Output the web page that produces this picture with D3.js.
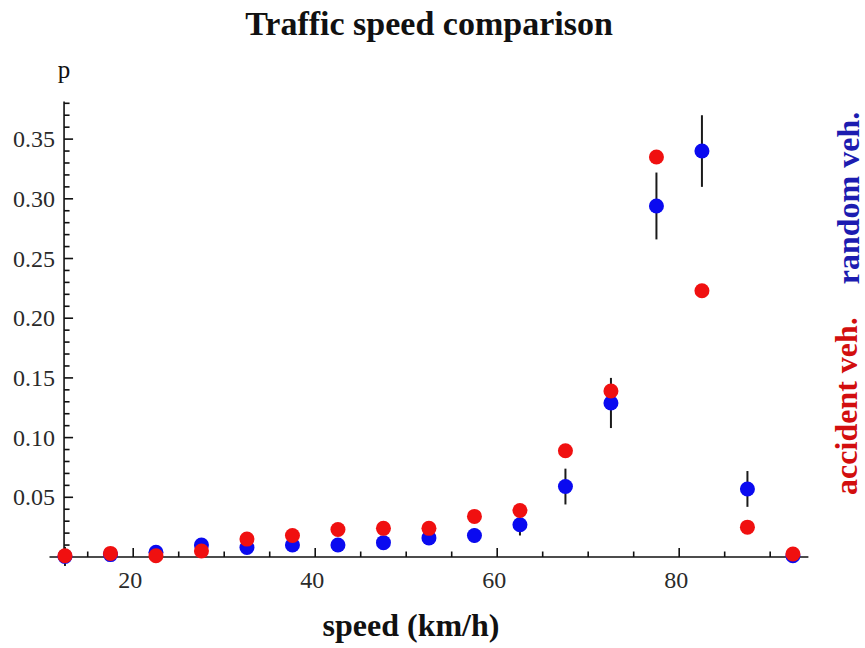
<!DOCTYPE html>
<html>
<head>
<meta charset="utf-8">
<script src="https://cdn.jsdelivr.net/npm/d3@7"></script>
<style>
  html, body { margin: 0; padding: 0; background: #fff; }
  svg { display: block; }
</style>
</head>
<body>
<svg id="chart" width="865" height="648"></svg>
<script>
// Speed bins (km/h, bin centres)
const speeds = [12.5, 17.5, 22.5, 27.5, 32.5, 37.5, 42.5, 47.5, 52.5, 57.5, 62.5, 67.5, 72.5, 77.5, 82.5, 87.5, 92.5];
// Share of accident vehicles per bin
const accidentP = [0.001, 0.003, 0.001, 0.005, 0.015, 0.018, 0.023, 0.024, 0.024, 0.034, 0.039, 0.089, 0.139, 0.335, 0.223, 0.025, 0.0025];
// Share of random vehicles per bin, with its error
const randomP = [0.0005, 0.002, 0.004, 0.010, 0.008, 0.010, 0.010, 0.012, 0.016, 0.018, 0.027, 0.059, 0.129, 0.294, 0.340, 0.057, 0.001];
const randomErr = [0.008, 0.002, 0.003, 0.004, 0.004, 0.004, 0.004, 0.005, 0.005, 0.006, 0.009, 0.015, 0.021, 0.028, 0.030, 0.015, 0.002];
// Axis ticks
const xMajor = [20, 40, 60, 80];
const xMinor = [15, 25, 30, 35, 45, 50, 55, 65, 70, 75, 85, 90];
const yMajor = [0.05, 0.10, 0.15, 0.20, 0.25, 0.30, 0.35];
const yMinor = d3.range(1, 39).map(i => i / 100).filter(v => Math.round(v * 100) % 5 !== 0);

const svg = d3.select("#chart");
const serif = "'Liberation Serif', 'Times New Roman', serif";

const x = d3.scaleLinear().domain([10.8, 94.2]).range([49.5, 808.4]);
const y = d3.scaleLinear().domain([0, 0.3815]).range([557, 101.5]);
const yAxisAt = 12.4;

// Title
svg.append("text")
  .attr("x", 429).attr("y", 35)
  .attr("text-anchor", "middle")
  .attr("font-family", serif).attr("font-weight", "bold").attr("font-size", 34)
  .attr("fill", "#111")
  .text("Traffic speed comparison");

// Axes lines
const axes = svg.append("g").attr("stroke", "#111").attr("stroke-width", 1.6);
axes.append("line")
  .attr("x1", x.range()[0]).attr("x2", x.range()[1])
  .attr("y1", y(0)).attr("y2", y(0));
axes.append("line")
  .attr("x1", x(yAxisAt)).attr("x2", x(yAxisAt))
  .attr("y1", y(0)).attr("y2", y.range()[1]);

// X ticks (pointing up into the plot)
axes.selectAll(".xmaj").data(xMajor).join("line")
  .attr("x1", d => x(d)).attr("x2", d => x(d))
  .attr("y1", y(0)).attr("y2", y(0) - 9);
axes.selectAll(".xmin").data(xMinor).join("line")
  .attr("x1", d => x(d)).attr("x2", d => x(d))
  .attr("y1", y(0)).attr("y2", y(0) - 5.5);

// Y ticks (pointing right into the plot)
axes.selectAll(".ymaj").data(yMajor).join("line")
  .attr("x1", x(yAxisAt)).attr("x2", x(yAxisAt) + 9)
  .attr("y1", d => y(d)).attr("y2", d => y(d));
axes.selectAll(".ymin").data(yMinor).join("line")
  .attr("x1", x(yAxisAt)).attr("x2", x(yAxisAt) + 5.5)
  .attr("y1", d => y(d)).attr("y2", d => y(d));

// Tick labels
svg.append("g").selectAll("text").data(xMajor).join("text")
  .attr("x", d => x(d) - 3).attr("y", 588)
  .attr("text-anchor", "middle")
  .attr("font-family", serif).attr("font-size", 24).attr("fill", "#2a2a2a")
  .text(d => d);
svg.append("g").selectAll("text").data(yMajor).join("text")
  .attr("x", 55).attr("y", d => y(d) + 8)
  .attr("text-anchor", "end")
  .attr("font-family", serif).attr("font-size", 24).attr("fill", "#2a2a2a")
  .text(d => d.toFixed(2));

// Axis titles
svg.append("text")
  .attr("x", 64).attr("y", 78)
  .attr("text-anchor", "middle")
  .attr("font-family", serif).attr("font-size", 25).attr("fill", "#111")
  .text("p");
svg.append("text")
  .attr("x", 411).attr("y", 636)
  .attr("text-anchor", "middle")
  .attr("font-family", serif).attr("font-weight", "bold").attr("font-size", 32)
  .attr("fill", "#111")
  .text("speed (km/h)");

// Series labels on the right, rotated
svg.append("text")
  .attr("transform", "translate(859,198) rotate(-90)")
  .attr("text-anchor", "middle")
  .attr("font-family", serif).attr("font-weight", "bold").attr("font-size", 32)
  .attr("fill", "#1c1cb0")
  .text("random veh.");
svg.append("text")
  .attr("transform", "translate(857,406) rotate(-90)")
  .attr("text-anchor", "middle")
  .attr("font-family", serif).attr("font-weight", "bold").attr("font-size", 32)
  .attr("fill", "#d20e0e")
  .text("accident veh.");

// Data
const rows = speeds.map((s, i) => ({ s, a: accidentP[i], r: randomP[i], e: randomErr[i] }));

svg.append("g").selectAll("line").data(rows).join("line")
  .attr("x1", d => x(d.s)).attr("x2", d => x(d.s))
  .attr("y1", d => y(d.r - d.e)).attr("y2", d => y(d.r + d.e))
  .attr("stroke", "#1a1a1a").attr("stroke-width", 2);

svg.append("g").selectAll("circle").data(rows).join("circle")
  .attr("cx", d => x(d.s)).attr("cy", d => y(d.r)).attr("r", 7.5)
  .attr("fill", "#0a0af0");

svg.append("g").selectAll("circle").data(rows).join("circle")
  .attr("cx", d => x(d.s)).attr("cy", d => y(d.a)).attr("r", 7.5)
  .attr("fill", "#f01010");
</script>
</body>
</html>
